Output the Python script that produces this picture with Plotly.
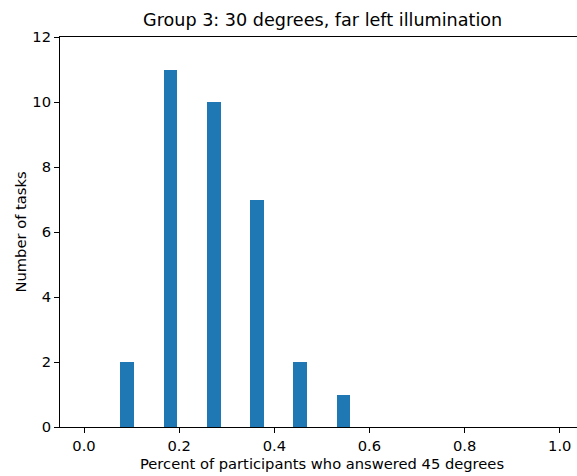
import plotly.graph_objects as go

# Data
bin_centers = [1/11, 2/11, 3/11, 4/11, 5/11, 6/11]
task_counts = [2, 11, 10, 7, 2, 1]
bar_width = 0.029
x_ticks = [0.0, 0.2, 0.4, 0.6, 0.8, 1.0]
x_tick_labels = ["0.0", "0.2", "0.4", "0.6", "0.8", "1.0"]
y_ticks = [0, 2, 4, 6, 8, 10, 12]
title_text = "Group 3: 30 degrees, far left illumination"
x_label = "Percent of participants who answered 45 degrees"
y_label = "Number of tasks"

FONT = "DejaVu Sans"
FS = 14.7
TFS = 17.6

fig = go.Figure()
fig.add_trace(go.Bar(
    x=bin_centers, y=task_counts, width=bar_width,
    marker=dict(color="#1f77b4", line=dict(width=0)),
    hoverinfo="skip",
))

W, H = 577, 476
L, R, T, B = 60, 0, 37, 49
fig.update_layout(
    width=W, height=H,
    margin=dict(l=L, r=R, t=T, b=B),
    paper_bgcolor="white", plot_bgcolor="white",
    showlegend=False,
    font=dict(family=FONT, size=FS, color="black"),
    bargap=0,
)
fig.update_xaxes(
    range=[-0.0505, 1.0363],
    tickvals=x_ticks, ticktext=x_tick_labels,
    ticks="outside", ticklen=5, tickwidth=1, tickcolor="black",
    showline=True, linecolor="black", linewidth=1, mirror=True,
    showgrid=False, zeroline=False,
    tickfont=dict(family=FONT, size=FS, color="black"),
)
fig.update_yaxes(
    range=[0, 12],
    tickvals=y_ticks,
    ticks="outside", ticklen=5, tickwidth=1, tickcolor="black",
    showline=True, linecolor="black", linewidth=1, mirror=False,
    showgrid=False, zeroline=False,
    tickfont=dict(family=FONT, size=FS, color="black"),
)

pw = W - L - R
cx = (322 - L) / pw
fig.add_annotation(text=title_text, xref="paper", yref="paper",
                   x=cx, y=1, yshift=5, xanchor="center", yanchor="bottom",
                   showarrow=False, font=dict(family=FONT, size=TFS, color="black"))
fig.add_annotation(text=x_label, xref="paper", yref="paper",
                   x=cx, y=0, yshift=-26, xanchor="center", yanchor="top",
                   showarrow=False, font=dict(family=FONT, size=FS, color="black"))
fig.add_annotation(text=y_label, xref="paper", yref="paper",
                   x=0, xshift=-(L - 9), y=0.5, textangle=-90,
                   xanchor="left", yanchor="middle",
                   showarrow=False, font=dict(family=FONT, size=FS, color="black"))

fig.write_html("out.html", config={"displayModeBar": False},
               post_script="document.body.style.margin='0px';")
